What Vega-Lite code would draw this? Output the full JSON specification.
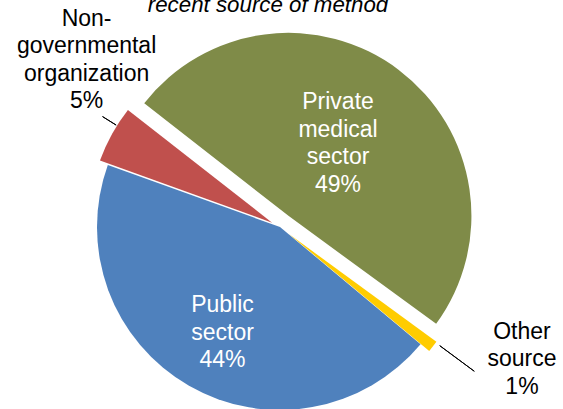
{
  "$schema": "https://vega.github.io/schema/vega-lite/v6.json",
  "width": 560,
  "height": 364,
  "autosize": "none",
  "padding": {"top": 45, "left": 0, "right": 3, "bottom": 0},
  "background": "white",
  "title": {
    "text": "recent source of method",
    "font": "Liberation Sans",
    "fontSize": 22.3,
    "fontStyle": "italic",
    "fontWeight": "normal",
    "color": "black",
    "anchor": "middle",
    "dx": -12,
    "offset": -8
  },
  "config": {"view": {"stroke": null}},
  "data": {
    "values": [
      {"source": "Private medical sector", "label": "Private\nmedical\nsector\n49%", "value": 49, "order": 1},
      {"source": "Other source", "label": "Other\nsource\n1%", "value": 1, "order": 2},
      {"source": "Public sector", "label": "Public\nsector\n44%", "value": 44, "order": 3},
      {"source": "Non-governmental organization", "label": "Non-\ngovernmental\norganization\n5%", "value": 5, "order": 4}
    ]
  },
  "transform": [
    {"stack": "value", "groupby": [], "sort": [{"field": "order", "order": "ascending"}], "as": ["v0", "v1"]}
  ],
  "layer": [
    {
      "transform": [{"filter": "datum.source === 'Public sector'"}],
      "mark": {"type": "arc", "radius": 183, "color": "#4F81BD"},
      "encoding": {
        "theta": {"field": "v0", "type": "quantitative", "scale": {"domain": [0, 99], "range": [5.37561, 11.6588]}},
        "theta2": {"field": "v1"}
      }
    },
    {
      "transform": [{"filter": "datum.source === 'Non-governmental organization'"}],
      "mark": {"type": "arc", "radius": 183, "color": "#C0504D", "xOffset": -7.87, "yOffset": -4.36},
      "encoding": {
        "theta": {"field": "v0", "type": "quantitative", "scale": {"domain": [0, 99], "range": [5.37561, 11.6588]}},
        "theta2": {"field": "v1"}
      }
    },
    {
      "transform": [{"filter": "datum.source === 'Private medical sector'"}],
      "mark": {"type": "arc", "radius": 183, "color": "#7F8B48", "xOffset": 8.44, "yOffset": -11.16},
      "encoding": {
        "theta": {"field": "v0", "type": "quantitative", "scale": {"domain": [0, 99], "range": [5.37561, 11.6588]}},
        "theta2": {"field": "v1"}
      }
    },
    {
      "transform": [{"filter": "datum.source === 'Other source'"}],
      "mark": {"type": "arc", "radius": 183, "color": "#FFCC00", "xOffset": 8.67, "yOffset": 6.77},
      "encoding": {
        "theta": {"field": "v0", "type": "quantitative", "scale": {"domain": [0, 99], "range": [5.37561, 11.6588]}},
        "theta2": {"field": "v1"}
      }
    },
    {
      "transform": [{"filter": "datum.source === 'Non-governmental organization'"}],
      "mark": {"type": "arc", "radius": 200, "radius2": 184, "thetaOffset": 0.213, "theta2Offset": 0.213, "fillOpacity": 0, "stroke": "black", "strokeWidth": 1, "xOffset": -7.87, "yOffset": -4.36},
      "encoding": {
        "theta": {"field": "v0", "type": "quantitative", "scale": {"domain": [0, 99], "range": [5.37561, 11.6588]}},
        "theta2": {"field": "v0"}
      }
    },
    {
      "transform": [{"filter": "datum.source === 'Other source'"}],
      "mark": {"type": "arc", "radius": 231, "radius2": 188, "thetaOffset": 0.006, "theta2Offset": 0.006, "fillOpacity": 0, "stroke": "black", "strokeWidth": 1, "xOffset": 8.67, "yOffset": 6.77},
      "encoding": {
        "theta": {"field": "v0", "type": "quantitative", "scale": {"domain": [0, 99], "range": [5.37561, 11.6588]}},
        "theta2": {"field": "v0"}
      }
    },
    {
      "transform": [{"filter": "datum.source === 'Private medical sector'"}],
      "mark": {"type": "text", "radius": 124.1, "thetaOffset": 1.3186, "xOffset": 8.44, "yOffset": -11.16, "font": "Liberation Sans", "fontSize": 23, "color": "white", "align": "center", "baseline": "middle", "lineBreak": "\n", "lineHeight": 27.5},
      "encoding": {
        "theta": {"field": "v0", "type": "quantitative", "scale": {"domain": [0, 99], "range": [5.37561, 11.6588]}},
        "text": {"field": "label"}
      }
    },
    {
      "transform": [{"filter": "datum.source === 'Public sector'"}],
      "mark": {"type": "text", "radius": 96.9, "thetaOffset": 1.511, "font": "Liberation Sans", "fontSize": 23, "color": "white", "align": "center", "baseline": "middle", "lineBreak": "\n", "lineHeight": 27.5},
      "encoding": {
        "theta": {"field": "v0", "type": "quantitative", "scale": {"domain": [0, 99], "range": [5.37561, 11.6588]}},
        "text": {"field": "label"}
      }
    },
    {
      "transform": [{"filter": "datum.source === 'Non-governmental organization'"}],
      "mark": {"type": "text", "radius": 275.5, "thetaOffset": 0.486, "xOffset": -7.87, "yOffset": -4.36, "font": "Liberation Sans", "fontSize": 23, "color": "black", "align": "center", "baseline": "middle", "lineBreak": "\n", "lineHeight": 27.5},
      "encoding": {
        "theta": {"field": "v0", "type": "quantitative", "scale": {"domain": [0, 99], "range": [5.37561, 11.6588]}},
        "text": {"field": "label"}
      }
    },
    {
      "transform": [{"filter": "datum.source === 'Other source'"}],
      "mark": {"type": "text", "radius": 253.1, "thetaOffset": -0.2335, "xOffset": 8.67, "yOffset": 6.77, "font": "Liberation Sans", "fontSize": 23, "color": "black", "align": "center", "baseline": "middle", "lineBreak": "\n", "lineHeight": 27.5},
      "encoding": {
        "theta": {"field": "v0", "type": "quantitative", "scale": {"domain": [0, 99], "range": [5.37561, 11.6588]}},
        "text": {"field": "label"}
      }
    }
  ]
}
